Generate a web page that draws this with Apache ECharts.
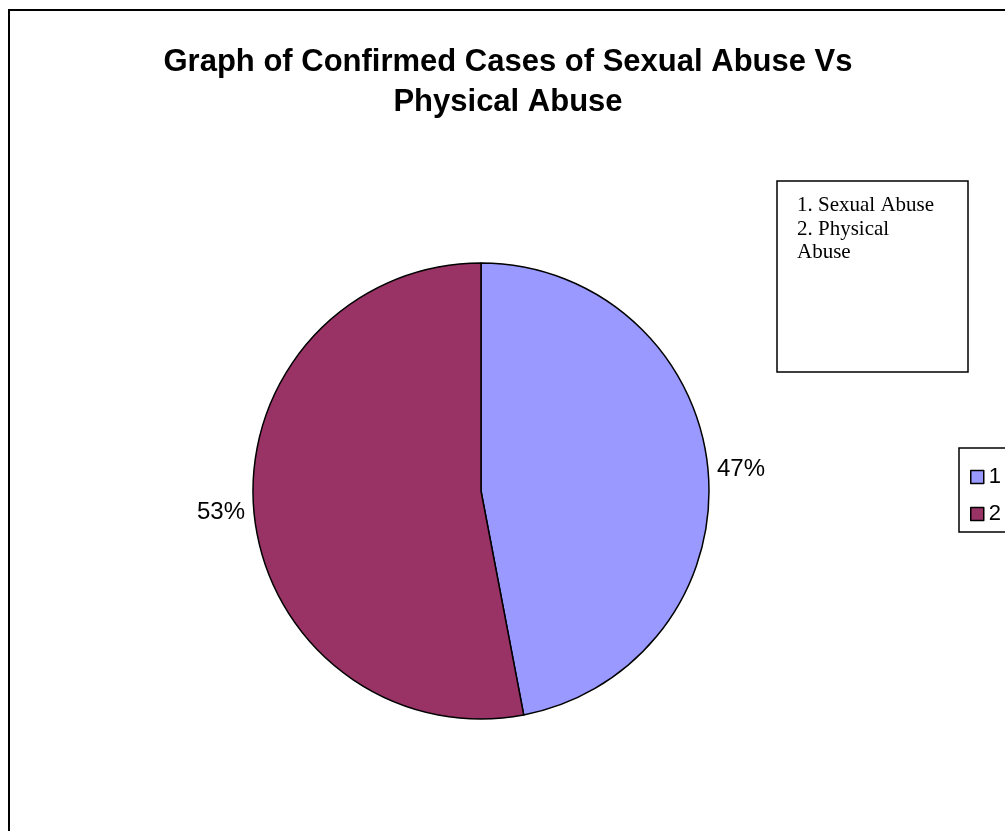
<!DOCTYPE html>
<html>
<head>
<meta charset="utf-8">
<style>
  html, body { margin: 0; padding: 0; background: #fff; }
  #chart { width: 1005px; height: 831px; }
</style>
<script src="https://cdn.jsdelivr.net/npm/echarts@6/dist/echarts.min.js"></script>
</head>
<body>
<div id="chart"></div>
<script>
// Category keys shown in the legend and the share of confirmed cases (%)
const categories = ['1', '2'];
const caseShares = [47, 53];
const sliceColors = ['#9999FF', '#993366'];
const titleLines = ['Graph of Confirmed Cases of Sexual Abuse Vs', 'Physical Abuse'];
const keyNotes = ['1. Sexual Abuse', '2. Physical', 'Abuse'];

const chart = echarts.init(document.getElementById('chart'), null, { renderer: 'canvas' });

const option = {
  backgroundColor: '#ffffff',
  animation: false,
  title: {
    text: titleLines.join('\n'),
    left: 503,
    top: 37,
    textAlign: 'center',
    textStyle: {
      fontFamily: 'Arial, Liberation Sans, sans-serif',
      fontWeight: 'bold',
      fontSize: 31,
      lineHeight: 40,
      color: '#000'
    }
  },
  legend: {
    orient: 'vertical',
    left: 959,
    top: 448,
    data: categories,
    icon: 'rect',
    itemWidth: 13,
    itemHeight: 13,
    itemGap: 15,
    borderColor: '#000',
    borderWidth: 1.5,
    padding: [18, 60, 7, 11],
    textStyle: {
      fontFamily: 'Arial, Liberation Sans, sans-serif',
      fontSize: 22,
      color: '#000'
    },
    itemStyle: { borderColor: '#000', borderWidth: 1.5 }
  },
  graphic: [
    {
      type: 'rect',
      shape: { x: 9, y: 10, width: 1020, height: 850 },
      style: { fill: 'none', stroke: '#000', lineWidth: 2 },
      silent: true
    },
    {
      type: 'rect',
      shape: { x: 777, y: 181, width: 191, height: 191 },
      style: { fill: '#fff', stroke: '#000', lineWidth: 1.5 },
      silent: true
    },
    {
      type: 'text',
      left: 797,
      top: 194,
      style: {
        text: keyNotes.join('\n'),
        font: '21px "Liberation Serif", "Times New Roman", serif',
        lineHeight: 23.5,
        fill: '#000'
      },
      silent: true
    }
  ],
  series: [
    {
      type: 'pie',
      center: [481, 491],
      radius: 228,
      startAngle: 90,
      clockwise: true,
      avoidLabelOverlap: false,
      label: {
        show: true,
        position: 'outside',
        formatter: '{d}%',
        fontFamily: 'Arial, Liberation Sans, sans-serif',
        fontSize: 24,
        color: '#000'
      },
      labelLine: { show: false, length: 3, length2: 1 },
      itemStyle: { borderColor: '#000', borderWidth: 1.5 },
      emphasis: { disabled: true },
      data: categories.map((name, i) => ({
        name: name,
        value: caseShares[i],
        itemStyle: { color: sliceColors[i] }
      }))
    }
  ]
};

chart.setOption(option);
</script>
</body>
</html>
